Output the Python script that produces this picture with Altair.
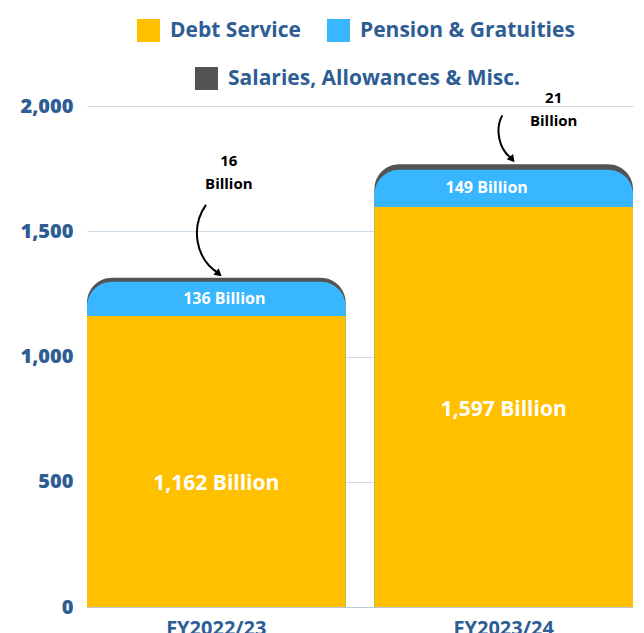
import json
import altair as alt
import pandas as pd

# ---------------- data ----------------
years = ["FY2022/23", "FY2023/24"]
debt_service = [1162, 1597]
pension = [136, 149]
salaries = [16, 21]
series_names = ["Debt Service", "Pension & Gratuities", "Salaries, Allowances & Misc."]
series_colors = ["#FFC000", "#38B6FF", "#545454"]
y_ticks = [0, 500, 1000, 1500, 2000]

df = pd.DataFrame({"year": years, "debt": debt_service, "pension": pension, "sal": salaries})
df["dp"] = df["debt"] + df["pension"]
df["total"] = df["dp"] + df["sal"]
df["debt_mid"] = df["debt"] / 2
df["pension_mid"] = df["debt"] + df["pension"] / 2
df["debt_label"] = [f"{v:,} Billion" for v in debt_service]
df["pension_label"] = [f"{v:,} Billion" for v in pension]
df["sal_label"] = [f"{v}\nBillion" for v in salaries]

# ---------------- styling ----------------
FONT = "Open Sans"
TXT_BLUE = "#2E5D94"

xscale = alt.Scale(domain=years, paddingInner=0.1, paddingOuter=0)
x_axis = alt.Axis(title=None, labelAngle=0, labelFontSize=20, labelFontWeight="bold",
                  labelColor=TXT_BLUE, labelFont=FONT, ticks=False, grid=False,
                  domainColor="#b9c7d6", labelPadding=11)
yscale = alt.Scale(domain=[0, 2000], nice=False)
y_axis = alt.Axis(title=None, values=y_ticks, format=",.0f", labelFontSize=20,
                  labelFontWeight=800, labelColor=TXT_BLUE, labelFont=FONT,
                  ticks=False, domain=False, gridColor="#cfdde9", gridWidth=1,
                  labelPadding=14)

X = alt.X("year:N", scale=xscale, axis=x_axis, sort=years)


def Y(field):
    return alt.Y(f"{field}:Q", scale=yscale, axis=y_axis, stack=None)


leg_common = dict(title=None, orient="none", direction="horizontal", symbolType="square",
                  symbolSize=529, symbolStrokeWidth=0, labelFontSize=21, labelFont=FONT,
                  labelFontWeight="bold", labelColor=TXT_BLUE, columnPadding=26,
                  labelOffset=10, padding=0, symbolOpacity=1, labelLimit=500)
leg1 = alt.Legend(legendX=50, legendY=-87, **leg_common)
leg2 = alt.Legend(legendX=108, legendY=-39, **leg_common)

color_enc = alt.Color("cat:N", scale=alt.Scale(domain=series_names[:2], range=series_colors[:2]),
                      legend=leg1)
fill_enc = alt.Fill("cat2:N", scale=alt.Scale(domain=series_names[2:], range=series_colors[2:]),
                    legend=leg2)

base = alt.Chart(df)

grey = base.mark_bar(cornerRadiusTopLeft=25, cornerRadiusTopRight=25).transform_calculate(
    cat2=json.dumps(series_names[2])
).encode(x=X, y=Y("total"), fill=fill_enc)

blue = base.mark_bar(cornerRadiusTopLeft=25, cornerRadiusTopRight=25).transform_calculate(
    cat=json.dumps(series_names[1])
).encode(x=X, y=Y("dp"), color=color_enc)

yellow = base.mark_bar().transform_calculate(
    cat=json.dumps(series_names[0])
).encode(x=X, y=Y("debt"), color=color_enc)

layers = [grey, blue, yellow]

# per-bar label nudges and annotations for the small "Salaries" segment
annot = [
    # year, debt dy, pension dx, text dx, text dy, arrow path, arrow size, arrow xoff, yoff,
    # head xoff, yoff, head angle
    (years[0], 23, 8, 12.5, -109, "M -0.08 -1 C -0.5 -0.4 -0.4 0.5 0.3 0.92", 5184, -7.5, -37,
     2.5, -4, 40),
    (years[1], 3, -17, 50, -58, "M -0.12 -1 C -0.42 -0.45 -0.3 0.45 0.35 0.85", 2304, 1.5, -25,
     8.5, -5, 50),
]
for yr, ddy, pdx, tdx, tdy, path, size, axo, ayo, hxo, hyo, hang in annot:
    sub = base.transform_filter(alt.datum.year == yr)
    layers.append(sub.mark_text(color="white", font=FONT, fontSize=21, fontWeight="bold",
                                dy=ddy).encode(x=X, y=Y("debt_mid"), text="debt_label:N"))
    layers.append(sub.mark_text(color="white", font=FONT, fontSize=16, fontWeight="bold",
                                dx=pdx).encode(x=X, y=Y("pension_mid"), text="pension_label:N"))
    layers.append(sub.mark_text(color="black", font=FONT, fontSize=15, fontWeight="bold",
                                lineBreak="\n", lineHeight=23, baseline="bottom",
                                dx=tdx, dy=tdy).encode(x=X, y=Y("total"), text="sal_label:N"))
    layers.append(sub.mark_point(shape=path, size=size, filled=False, color="black",
                                 strokeWidth=2, opacity=1, xOffset=axo, yOffset=ayo)
                  .encode(x=X, y=Y("total")))
    layers.append(sub.mark_point(shape="triangle-right", size=70, filled=True, color="black",
                                 opacity=1, angle=hang, xOffset=hxo, yOffset=hyo)
                  .encode(x=X, y=Y("total")))

chart = alt.layer(*layers).properties(
    width=546, height=501,
    padding={"left": 87, "top": 106, "right": 11, "bottom": 26},
    autosize=alt.AutoSizeParams(type="none"),
    background="white",
).configure_view(stroke=None)

chart.save("out.html", embed_options={"renderer": "svg", "actions": False})
